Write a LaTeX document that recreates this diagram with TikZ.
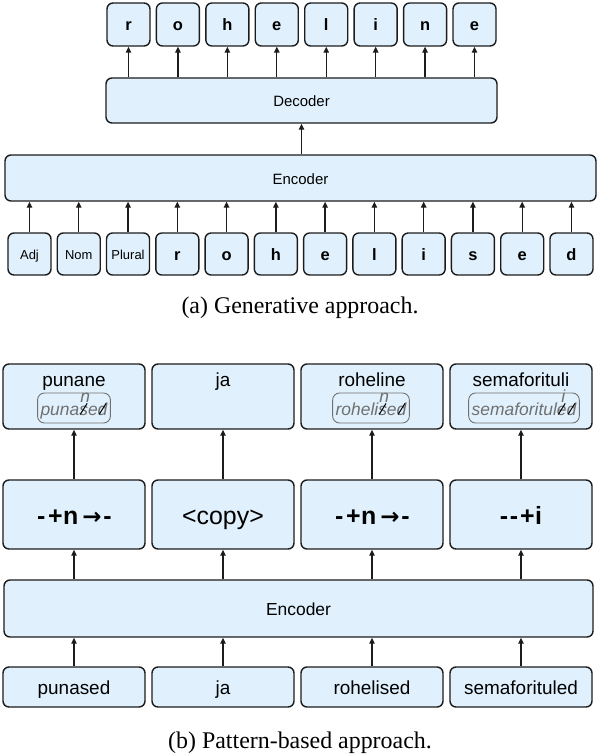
\documentclass[tikz,border=0pt]{standalone}
\usepackage{fontspec}
\setmainfont{Liberation Sans}
\newfontfamily\serifcap{Liberation Serif}
\newfontfamily\arrowfont{DejaVu Sans}
\usetikzlibrary{arrows.meta}
\definecolor{boxblue}{RGB}{224,241,253}
\definecolor{edgecol}{RGB}{28,28,28}
\definecolor{inngray}{RGB}{112,112,112}
\newcommand\slashbar{\raisebox{5.6bp}{\textcolor{black}{\rotatebox[origin=c]{58}{\rule{13bp}{1bp}}}}}
\newcommand\strk[1]{\ooalign{#1\cr\hidewidth\slashbar\hidewidth\cr}}
\newcommand\repl[2]{\ooalign{#1\cr\hidewidth\slashbar\hidewidth\cr\hidewidth\kern3bp\raisebox{0.72em}{#2}\hidewidth\cr}}
\newcommand\patarrow{{\kern1bp\textbf{-}\kern2.5bp\textbf{+}\kern0.5bp\textbf{n}\kern4bp{\arrowfont\bfseries\fontsize{23}{26}\selectfont →}\kern2bp\textbf{-}}}
\begin{document}
\begin{tikzpicture}[x=1bp,y=-1bp,
  blk/.style={draw=edgecol, line width=1.4bp, rounded corners=6bp, fill=boxblue, inner sep=0pt},
  arr/.style={-{Triangle[length=6bp,width=5.5bp]}, line width=1.3bp, draw=edgecol},
  letter/.style={minimum width=43bp, font=\bfseries\fontsize{16.5}{19}\selectfont, text height=15bp, text depth=3bp},
  tagtxt/.style={minimum width=43bp, font=\fontsize{13}{15}\selectfont, text height=14bp, text depth=3bp},
  midtxt/.style={font=\fontsize{15}{18}\selectfont, text height=14bp, text depth=2bp},
  btxt/.style={font=\fontsize{19}{22}\selectfont},
  pattxt/.style={font=\fontsize{25}{29}\selectfont, text height=22bp, text depth=3bp},
  intxt/.style={font=\fontsize{19}{22}\selectfont, text height=17bp, text depth=3bp},
  inbox/.style={draw=inngray, line width=0.9bp, rounded corners=7bp, minimum height=30bp,
    inner xsep=3bp, inner ysep=0pt, text height=15bp, text depth=1bp,
    font=\itshape\fontsize{17.5}{20}\selectfont, text=inngray},
  captxt/.style={font=\serifcap\fontsize{24}{28}\selectfont, anchor=base}
]
\useasboundingbox (0,0) rectangle (598,756);

% ---------- (a) generative ----------
\foreach \t [count=\i from 0] in {r,o,h,e,l,i,n,e}
  \node[blk, letter, minimum height=43bp] (t\i) at ({128.5+49.43*\i},24.5) {\t};
\node[blk, midtxt, minimum width=391bp, minimum height=45bp] (dec) at (301.5,100.5) {Decoder};
\node[blk, midtxt, minimum width=591bp, minimum height=46bp] (encA) at (300.5,178) {Encoder};
\foreach \t/\s [count=\i from 0] in {Adj/tagtxt,Nom/tagtxt,Plural/tagtxt,r/letter,o/letter,h/letter,e/letter,l/letter,i/letter,s/letter,e/letter,d/letter}
  \node[blk, \s, minimum height=42bp] (b\i) at ({29.5+49.27*\i},254) {\t};
\foreach \i in {0,...,7}
  \draw[arr] (t\i.south |- dec.north) -- (t\i.south);
\draw[arr] (dec.south |- encA.north) -- (dec.south);
\foreach \i in {0,...,11}
  \draw[arr] (b\i.north) -- (b\i.north |- encA.south);
\node[captxt] (capA) at (300,313) {(a) Generative approach.};

% ---------- (b) pattern-based ----------
\foreach \c/\x in {1/74,2/223,3/372,4/521}
  \node[blk, minimum width=142bp, minimum height=65bp] (o\c) at (\x,396.5) {};
\node[btxt, anchor=base] (ot1) at (74,386) {punane};
\node[btxt, anchor=base] (ot2) at (223,386) {ja};
\node[btxt, anchor=base] (ot3) at (372,386) {roheline};
\node[btxt, anchor=base] (ot4) at (521,386) {semaforituli};
\node[inbox] (ib1) at (74,408) {puna\repl{s}{n}e\strk{d}};
\node[inbox] (ib3) at (371,408) {roheli\repl{s}{n}e\strk{d}};
\node[inbox] (ib4) at (524,408) {semaforitul\repl{e}{i}\strk{d}};

\node[blk, pattxt, minimum width=142bp, minimum height=69bp] (p1) at (74,514.5) {\patarrow};
\node[blk, pattxt, minimum width=142bp, minimum height=69bp] (p2) at (223,514.5) {<copy>};
\node[blk, pattxt, minimum width=142bp, minimum height=69bp] (p3) at (372,514.5) {\patarrow};
\node[blk, pattxt, minimum width=142bp, minimum height=69bp] (p4) at (521,514.5)
  {\textbf{-}\kern1.5bp\textbf{-}\kern2bp\textbf{+}\kern0.5bp\textbf{i}};

\node[blk, font=\fontsize{17.5}{20}\selectfont, text height=15bp, text depth=2bp,
  minimum width=589bp, minimum height=57bp] (encB) at (298.5,608.5) {Encoder};

\node[blk, intxt, minimum width=142bp, minimum height=40bp] (i1) at (74,687) {punased};
\node[blk, intxt, minimum width=142bp, minimum height=40bp] (i2) at (223,687) {ja};
\node[blk, intxt, minimum width=142bp, minimum height=40bp] (i3) at (372,687) {rohelised};
\node[blk, intxt, minimum width=142bp, minimum height=40bp] (i4) at (521,687) {semaforituled};

\foreach \c in {1,...,4} {
  \draw[arr] (i\c.north) -- (i\c.north |- encB.south);
  \draw[arr] (p\c.south |- encB.north) -- (p\c.south);
  \draw[arr] (p\c.north) -- (o\c.south);
}
\node[captxt] (capB) at (300,748) {(b) Pattern-based approach.};
\end{tikzpicture}
\end{document}
